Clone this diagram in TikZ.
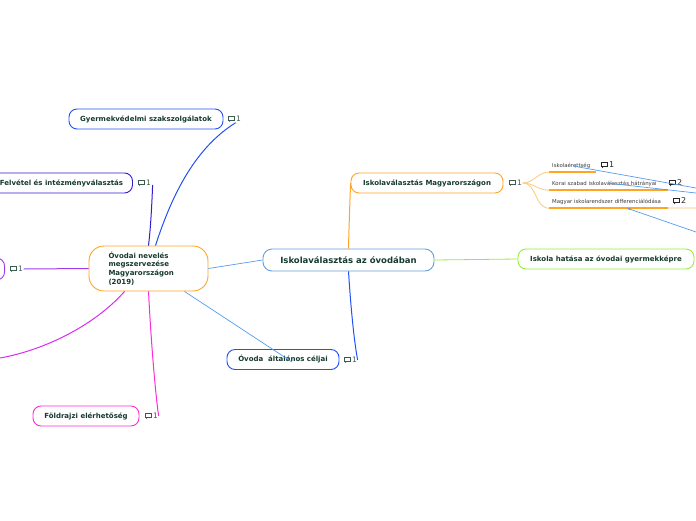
\documentclass[tikz,border=0pt]{standalone}
\usepackage{fontspec}
\setmainfont{DejaVu Sans}
\usepackage{tikz}
\usetikzlibrary{arrows.meta,positioning,calc}

\definecolor{txtgreen}{RGB}{22,58,44}
\definecolor{cmtgrey}{RGB}{60,90,80}
\definecolor{subgrey}{RGB}{60,60,60}
\definecolor{cblue}{RGB}{100,160,220}
\definecolor{lblue}{RGB}{85,155,240}
\definecolor{dblue}{RGB}{35,80,245}
\definecolor{indigo}{RGB}{50,30,210}
\definecolor{violet}{RGB}{160,60,240}
\definecolor{magcurve}{RGB}{215,45,240}
\definecolor{pinkm}{RGB}{250,45,215}
\definecolor{orng}{RGB}{255,165,35}
\definecolor{lorng}{RGB}{255,205,130}
\definecolor{lgreen}{RGB}{150,238,55}

\newcommand{\bubble}{\tikz[baseline=0pt,x=1pt,y=1pt]{\draw[line width=0.8pt] (0,1.4) rectangle (6.4,5); \fill (1,1.4) -- (1,-0.6) -- (3,1.4) -- cycle;}}

\begin{document}
\begin{tikzpicture}[
		x=1pt,y=-1pt,
		topic/.style={
			draw,
			fill=white,
			rounded corners=8pt,
			line width=0.9pt,
			minimum height=20pt,
			inner sep=0pt,
			text=txtgreen,
			font=\fontsize{7}{8}\selectfont\bfseries
		},
		subtopic/.style={
			anchor=west,
			inner xsep=3pt,
			inner ysep=0pt,
			minimum height=12pt,
			align=left,
			text=subgrey,
			font=\fontsize{5.4}{6}\selectfont
		},
		cmt/.style={
			anchor=west,
			inner sep=0.5pt,
			text=cmtgrey,
			font=\fontsize{7.5}{8}\selectfont
		},
		link/.style={line width=1pt},
		uline/.style={draw=orng, line width=1.6pt},
		branch/.style={draw=lorng, line width=0.9pt},
		ref/.style={draw=lblue, line width=0.7pt, -{Latex[length=3pt,width=2.4pt]}}
		]
		
		\useasboundingbox (0,0) rectangle (696,520);
		\clip (0,0) rectangle (696,520);
		
		\node[topic, draw=cblue, rounded corners=9pt, minimum width=171pt, minimum height=22pt,
		font=\fontsize{8.5}{10}\selectfont\bfseries] (c0) at (348.5,260) {Iskolaválasztás az óvodában};
		
		\node[topic, draw=orng, minimum width=152pt] (ima) at (427,183) {Iskolaválasztás Magyarországon};
		\node[topic, draw=lgreen, minimum width=176pt] (hat) at (606,259) {Iskola hatása az óvodai gyermekképre};
		\node[topic, draw=dblue, minimum width=112pt] (ovc) at (283,359.5) {Óvoda\ \ általános céljai};
		\node[topic, draw=orng, rounded corners=15pt, minimum width=119pt, minimum height=45pt,
		text width=80pt, align=left, font=\fontsize{7}{8.7}\selectfont\bfseries] (ovn) at (148.5,268.5)
		{Óvodai nevelés\\megszervezése\\Magyarországon\\(2019)};
		
		\node[topic, draw=dblue, minimum width=154pt] (gyv) at (146,119) {Gyermekvédelmi szakszolgálatok};
		\node[topic, draw=indigo, minimum width=142pt] (fel) at (61.5,183) {Felvétel és intézményválasztás};
		\node[topic, draw=violet, minimum width=90pt, minimum height=22pt, anchor=east] (pur) at (5,269) {};
		\node[topic, draw=pinkm, minimum width=106pt] (fold) at (86,416) {Földrajzi elérhetőség};
		
		\node[cmt] (cm1) at (227,119) {\bubble\,1};
		\node[cmt] (cm2) at (137,183) {\bubble\,1};
		\node[cmt] (cm3) at (9,269) {\bubble\,1};
		\node[cmt] (cm4) at (343,360) {\bubble\,1};
		\node[cmt] (cm5) at (144,416) {\bubble\,1};
		\node[cmt] (cm6) at (508,183) {\bubble\,1};
		
		\node[subtopic, text width=41pt] (k1) at (549,166) {Iskolaérettség};
		\node[subtopic, text width=113pt] (k2) at (549,184) {Korai szabad iskolaválasztás hátrányai};
		\node[subtopic, text width=113pt] (k3) at (549,202) {Magyar iskolarendszer differenciálódása};
		
		\node[cmt, text=black!85, font=\fontsize{8}{9}\selectfont] (cm7) at (600,165) {\bubble\,1};
		\node[cmt, text=black!85, font=\fontsize{8}{9}\selectfont] (cm8) at (668,183) {\bubble\,2};
		\node[cmt, text=black!85, font=\fontsize{8}{9}\selectfont] (cm9) at (672,201) {\bubble\,2};
		
		\draw[uline] (k1.south west) -- (k1.south east);
		\draw[uline] (k2.south west) -- (k2.south east);
		\draw[uline] (k3.south west) -- (k3.south east);
		\draw[uline, draw=orng!25] (k3.south east) -- ++(30,0);
		
		\draw[branch] (cm6.east) to[out=0,in=180] (k1.south west);
		\draw[branch] (cm6.east) to[out=0,in=180] (k2.south west);
		\draw[branch] (cm6.east) to[out=0,in=180] (k3.south west);
		
		\coordinate (r1) at (696,188);
		\coordinate (r2) at (696,193);
		\coordinate (r3) at (696,232);
		\coordinate (t1) at ($(k1.west)+(24,0)$);
		\coordinate (t2) at ($(k2.west)+(58,-1)$);
		\coordinate (t3) at ($(k3.south west)+(78,0)$);
		\draw[ref] (r1) -- (t1);
		\draw[ref] (r2) -- (t2);
		\draw[ref] (r3) -- (t3);
		
		\draw[link, draw=lblue, line width=0.7pt] (c0.west) -- (ovn.east);
		\draw[link, draw=lgreen, line width=0.8pt] (c0.east) -- (hat.west);
		\draw[link, draw=orng] (c0.north) .. controls (349,225) and (350,200) .. (ima.west);
		\draw[link, draw=dblue] (c0.south) .. controls (351,310) and (354,340) .. (cm4.east);
		
		\coordinate (oc) at (292,362);
		\draw[link, draw=lblue, line width=0.7pt] ($(ovn.south)+(36,0)$) -- (oc);
		
		\draw[link, draw=dblue] ($(ovn.north)+(7,0)$) .. controls (175,185) and (200,145) .. ($(cm1.south east)+(-6,0)$);
		\draw[link, draw=indigo] (ovn.north) .. controls (151,225) and (152,200) .. ($(cm2.east)+(1,2)$);
		\draw[link, draw=violet] (ovn.west) -- (cm3.east);
		
		\coordinate (mg) at (0,358);
		\draw[link, draw=magcurve] ($(ovn.south)+(-24,0)$) .. controls (95,325) and (45,350) .. (mg);
		\draw[link, draw=pinkm] (ovn.south) .. controls (151,340) and (155,390) .. (cm5.east);
		
	\end{tikzpicture}
\end{document}
